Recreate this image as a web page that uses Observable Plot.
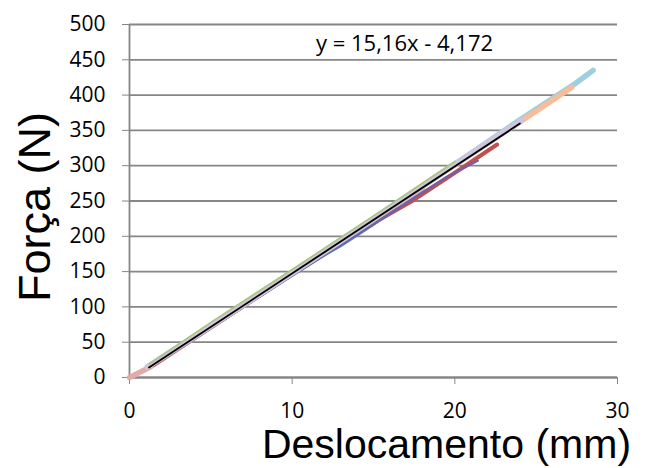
<!DOCTYPE html>
<html>
<head>
<meta charset="utf-8">
<script src="https://cdn.jsdelivr.net/npm/d3@7"></script>
<script src="https://cdn.jsdelivr.net/npm/@observablehq/plot@0.6"></script>
<style>
  html, body { margin: 0; padding: 0; background: #fff; }
</style>
</head>
<body>
<div id="chart"></div>
<script>
// ---- data ----
const xTicks = [0, 10, 20, 30];
const yTicks = [0, 50, 100, 150, 200, 250, 300, 350, 400, 450, 500];

const lightBlueX = [1.3, 5, 10, 15, 20, 24, 27.2, 28.5];
const lightBlueY = [18, 73, 149, 225, 302, 365, 413, 435];

const peachX = [1.3, 5, 10, 15, 20, 24, 27.2];
const peachY = [17, 72, 148, 224, 301, 362, 411];

const pinkX = [0, 1.2, 5, 10, 15, 18];
const pinkY = [0, 14, 72, 147, 222, 268];

const redX = [1.5, 5, 10, 15, 17.3, 20, 22.6];
const redY = [18, 71, 146, 219, 249, 290, 330];

const blueX = [1.5, 5, 10, 12, 13, 15, 16.5];
const blueY = [18, 70, 144, 173, 186, 216, 240];

const purpleX = [1.5, 5, 10, 15, 18, 19.5, 21.4];
const purpleY = [18, 70, 145, 217, 262, 284, 307];

const lavenderX = [1.1, 5, 10, 15, 20, 24.1];
const lavenderY = [15, 73, 148, 224, 302, 364];

const greenX = [1.2, 5, 10, 15, 20];
const greenY = [19, 78, 153, 229, 306];

const trendX = [1.2, 24.0];
const trendY = [14.0, 359.7];

const equationLabel = "y = 15,16x - 4,172";
const xTitle = "Deslocamento (mm)";
const yTitle = "Força (N)";

// ---- build tables ----
const toRows = (xs, ys) => xs.map((x, i) => ({x, y: ys[i]}));

const series = [
  {rows: toRows(lightBlueX, lightBlueY), color: "#9ccfdf", w: 5.5},
  {rows: toRows(peachX, peachY), color: "#f8bc98", w: 5.5},
  {rows: toRows(pinkX, pinkY), color: "#e4aaa8", w: 5.5},
  {rows: toRows(redX, redY), color: "#c0504d", w: 4},
  {rows: toRows(blueX, blueY), color: "#4f81bd", w: 2},
  {rows: toRows(purpleX, purpleY), color: "#7060a8", w: 2.5},
  {rows: toRows(lavenderX, lavenderY), color: "#cdc6dc", w: 6},
  {rows: toRows(greenX, greenY), color: "#a8c67a", w: 1.6},
  {rows: toRows(trendX, trendY), color: "#000000", w: 1.8}
];

const gray = "#868686";

const chart = Plot.plot({
  width: 659,
  height: 468,
  marginLeft: 129,
  marginRight: 42,
  marginTop: 24,
  marginBottom: 91,
  style: {fontFamily: "Open Sans", fontSize: "21px", background: "#fff", color: "#000"},
  x: {domain: [0, 30]},
  y: {domain: [0, 500]},
  marks: [
    Plot.gridY(yTicks, {stroke: gray, strokeOpacity: 1, strokeWidth: 1.8}),
    Plot.ruleX([0], {stroke: gray, strokeWidth: 1.8}),
    Plot.ruleY([0], {stroke: gray, strokeWidth: 1.8}),
    Plot.axisY(yTicks, {tickSize: 7, tickPadding: 17, stroke: gray, fontSize: 21, label: null}),
    Plot.axisX(xTicks, {tickSize: 7, tickPadding: 19, stroke: gray, fontSize: 21, label: null}),
    ...series.map(s => Plot.line(s.rows, {x: "x", y: "y", stroke: s.color, strokeWidth: s.w, strokeLinecap: "round", strokeLinejoin: "round"})),
    Plot.text([equationLabel], {frameAnchor: "top", textAnchor: "middle", lineAnchor: "middle", dx: 31, dy: 19, fontSize: 22, fontFamily: "Open Sans"}),
    Plot.text([xTitle], {frameAnchor: "bottom", textAnchor: "middle", lineAnchor: "middle", dx: 73, dy: 67, fontSize: 41, fontFamily: "Liberation Sans"}),
    Plot.text([yTitle], {frameAnchor: "left", textAnchor: "middle", lineAnchor: "middle", dx: -94, dy: 6, rotate: -90, fontSize: 45, fontFamily: "Liberation Sans"})
  ]
});

document.getElementById("chart").appendChild(chart);
</script>
</body>
</html>
